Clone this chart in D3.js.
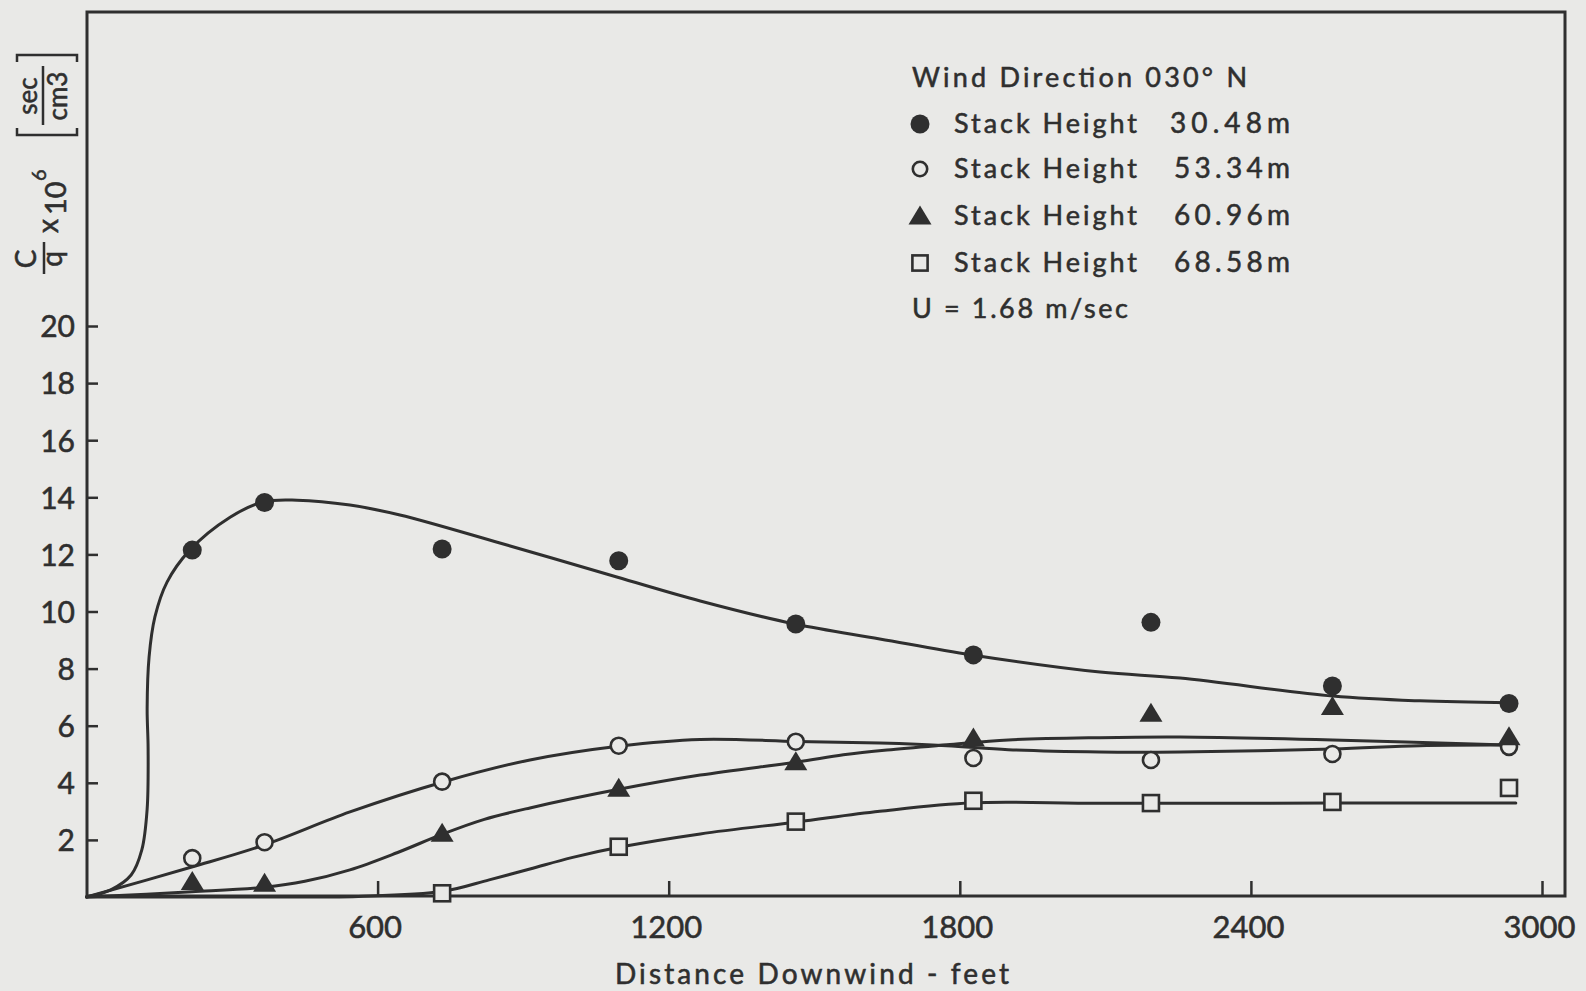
<!DOCTYPE html>
<html>
<head>
<meta charset="utf-8">
<script src="https://cdn.jsdelivr.net/npm/d3@7"></script>
<style>
  html, body { margin: 0; padding: 0; background: #e9e9e7; }
  svg { display: block; }
  text { font-family: Lato, "Noto Sans", sans-serif; fill: #2f2f2f; stroke: #2f2f2f; stroke-width: 0.55px; }
</style>
</head>
<body>
<svg id="chart" width="1586" height="991"></svg>
<script>
// Sampling distances downwind (feet)
const distance = [218, 367, 733, 1097, 1462, 1828, 2194, 2568, 2932];

// Measured C/q x 10^6 (sec/cm3) for each stack height
const stack3048 = [12.15, 13.82, 12.19, 11.78, 9.56, 8.48, 9.62, 7.39, 6.78];
const stack5334 = [1.36, 1.92, 4.04, 5.30, 5.44, 4.87, 4.80, 5.01, 5.26];
const stack6096 = [0.54, 0.48, 2.23, 3.81, 4.74, 5.57, 6.44, 6.67, 5.61];
const stack6858 = [null, null, 0.13, 1.76, 2.64, 3.37, 3.29, 3.33, 3.82];

// Hand-fitted smooth curves, [distance ft, C/q]
const fit3048 = [[0,0],[50,0.25],[92,0.77],[114,1.65],[125,3.08],[127,5.18],[125,6.62],[129,8.41],[141,9.81],[166,11.03],[213,12.15],[296,13.3],[364,13.84],[434,13.9],[543,13.73],[646,13.38],[852,12.4],[1093,11.21],[1265,10.37],[1460,9.56],[1635,9.04],[1825,8.48],[2089,7.88],[2254,7.67],[2569,7.04],[2748,6.87],[2934,6.8]];
const fit5334 = [[0,0],[217,1.05],[366,1.82],[543,2.98],[735,4.03],[914,4.8],[1100,5.29],[1265,5.52],[1465,5.45],[1635,5.39],[1773,5.3],[1900,5.16],[2089,5.08],[2254,5.08],[2569,5.18],[2748,5.3],[2928,5.32]];
const fit6096 = [[0,0],[217,0.18],[366,0.34],[450,0.55],[543,0.95],[640,1.55],[735,2.21],[820,2.72],[914,3.12],[1100,3.78],[1265,4.27],[1465,4.73],[1560,4.98],[1650,5.15],[1773,5.33],[1900,5.5],[2089,5.58],[2254,5.6],[2569,5.5],[2928,5.32]];
const fit6858 = [[0,0],[300,0],[560,0.02],[735,0.2],[830,0.6],[914,0.98],[1000,1.38],[1100,1.75],[1265,2.21],[1465,2.63],[1635,3.0],[1827,3.3],[2089,3.28],[2569,3.29],[2946,3.29]];

// Axis ticks
const xTicks = [600, 1200, 1800, 2400, 3000];
const yTicks = [2, 4, 6, 8, 10, 12, 14, 16, 18, 20];

// Legend text
const legendTitle = "Wind Direction 030\u00B0 N";
const legendLabels = ["Stack Height", "Stack Height", "Stack Height", "Stack Height"];
const legendValues = ["30.48m", "53.34m", "60.96m", "68.58m"];
const windSpeed = "U = 1.68 m/sec";
const xTitle = "Distance Downwind - feet";

const ink = "#2f2f2f";
const paper = "#e9e9e7";

const svg = d3.select("#chart");
svg.append("rect").attr("width", 1586).attr("height", 991).attr("fill", paper);

const x = d3.scaleLinear().domain([0, 3000]).range([86.5, 1542]);
const y = d3.scaleLinear().domain([0, 20]).range([897, 326]);

const frame = { left: 87, right: 1565, top: 12, bottom: 896 };

// Plot frame
svg.append("rect")
  .attr("x", frame.left).attr("y", frame.top)
  .attr("width", frame.right - frame.left).attr("height", frame.bottom - frame.top)
  .attr("fill", "none").attr("stroke", ink).attr("stroke-width", 3);

// X axis: ticks point into the plot
const xAxis = d3.axisBottom(x).tickValues(xTicks).tickSize(-15).tickPadding(0).tickFormat(d3.format("d"));
const gx = svg.append("g").attr("transform", `translate(0,${frame.bottom})`).call(xAxis);
gx.select(".domain").remove();
gx.selectAll(".tick line").attr("stroke", ink).attr("stroke-width", 2.5);
gx.selectAll(".tick text")
  .attr("x", -3).attr("y", 42).attr("dy", 0)
  .style("font-family", "Lato, sans-serif").style("font-size", "31px").attr("fill", ink);

// Y axis: ticks point into the plot
const yAxis = d3.axisLeft(y).tickValues(yTicks).tickSize(-11).tickPadding(0).tickFormat(d3.format("d"));
const gy = svg.append("g").attr("transform", `translate(${frame.left},0)`).call(yAxis);
gy.select(".domain").remove();
gy.selectAll(".tick line").attr("stroke", ink).attr("stroke-width", 2.5);
gy.selectAll(".tick text")
  .attr("x", -12).attr("dy", "0.36em")
  .style("font-family", "Lato, sans-serif").style("font-size", "30px").attr("fill", ink);

// Fitted curves
const line = d3.line()
  .x(d => x(d[0])).y(d => y(d[1]))
  .curve(d3.curveCatmullRom.alpha(0.5));

const curves = svg.append("g").attr("fill", "none").attr("stroke", ink)
  .attr("stroke-width", 3).attr("stroke-linecap", "round").attr("stroke-linejoin", "round");
[fit3048, fit5334, fit6096, fit6858].forEach(c => curves.append("path").attr("d", line(c)));

// Markers
const marks = svg.append("g");
function triPath(s) {
  return `M0,${-10.5 * s}L${11.5 * s},${8.5 * s}L${-11.5 * s},${8.5 * s}Z`;
}
function drawMarker(g, kind, cx, cy, s) {
  if (kind === "filled") {
    g.append("circle").attr("cx", cx).attr("cy", cy).attr("r", 9.5 * s).attr("fill", ink);
  } else if (kind === "open") {
    g.append("circle").attr("cx", cx).attr("cy", cy).attr("r", 8 * s)
      .attr("fill", paper).attr("stroke", ink).attr("stroke-width", 2.6);
  } else if (kind === "triangle") {
    g.append("path").attr("transform", `translate(${cx},${cy})`).attr("d", triPath(s)).attr("fill", ink);
  } else if (kind === "square") {
    const h = 8 * s;
    g.append("rect").attr("x", cx - h).attr("y", cy - h).attr("width", 2 * h).attr("height", 2 * h)
      .attr("fill", paper).attr("stroke", ink).attr("stroke-width", 2.6);
  }
}
const seriesDefs = [
  { vals: stack3048, kind: "filled" },
  { vals: stack5334, kind: "open" },
  { vals: stack6096, kind: "triangle" },
  { vals: stack6858, kind: "square" }
];
seriesDefs.forEach(sd => {
  sd.vals.forEach((v, i) => {
    if (v === null) return;
    drawMarker(marks, sd.kind, x(distance[i]), y(v), 1);
  });
});

// Legend
const lg = svg.append("g");
lg.append("text").attr("x", 912).attr("y", 87).attr("textLength", 335).attr("lengthAdjust", "spacing")
  .style("font-size", "27px").text(legendTitle);
const rowY = [133, 178, 225, 272];
const kinds = ["filled", "open", "triangle", "square"];
const symScale = [1.0, 0.9, 1.0, 0.95];
rowY.forEach((ry, i) => {
  drawMarker(lg, kinds[i], 920, ry - 9, symScale[i]);
  lg.append("text").attr("x", 954).attr("y", ry).attr("textLength", 183).attr("lengthAdjust", "spacing")
    .style("font-size", "27px").text(legendLabels[i]);
  lg.append("text").attr("x", 1290).attr("y", ry).attr("text-anchor", "end")
    .attr("textLength", i === 0 ? 120 : 116).attr("lengthAdjust", "spacing")
    .style("font-size", "28px").text(legendValues[i]);
});
lg.append("text").attr("x", 912).attr("y", 318).attr("textLength", 216).attr("lengthAdjust", "spacing")
  .style("font-size", "27px").text(windSpeed);

// X axis title
svg.append("text").attr("x", 615).attr("y", 984).attr("textLength", 394).attr("lengthAdjust", "spacing")
  .style("font-size", "28px").text(xTitle);

// Y axis title: C/q x 10^6 [sec/cm3], rotated
const yt = svg.append("g").attr("transform", "translate(44,277) rotate(-90)");
yt.append("text").attr("x", 18).attr("y", -8).attr("text-anchor", "middle").style("font-size", "28px").text("C");
yt.append("line").attr("x1", 3).attr("x2", 35).attr("y1", 0).attr("y2", 0).attr("stroke", ink).attr("stroke-width", 2.5);
yt.append("text").attr("x", 18).attr("y", 18).attr("text-anchor", "middle").style("font-size", "28px").text("q");
yt.append("text").attr("x", 44).attr("y", 14).style("font-size", "28px").text("x");
yt.append("text").attr("x", 62).attr("y", 22).style("font-size", "29px").text("10");
yt.append("text").attr("x", 96).attr("y", 2).style("font-size", "20px").text("6");
yt.append("path").attr("d", "M149,-27H142V33H149").attr("fill", "none").attr("stroke", ink).attr("stroke-width", 2.5);
yt.append("text").attr("x", 181).attr("y", -7).attr("text-anchor", "middle").style("font-size", "26px").text("sec");
yt.append("line").attr("x1", 152).attr("x2", 211).attr("y1", -1).attr("y2", -1).attr("stroke", ink).attr("stroke-width", 2.5);
yt.append("text").attr("x", 181).attr("y", 23).attr("text-anchor", "middle").style("font-size", "26px").text("cm3");
yt.append("path").attr("d", "M215,-27H222V33H215").attr("fill", "none").attr("stroke", ink).attr("stroke-width", 2.5);
</script>
</body>
</html>
